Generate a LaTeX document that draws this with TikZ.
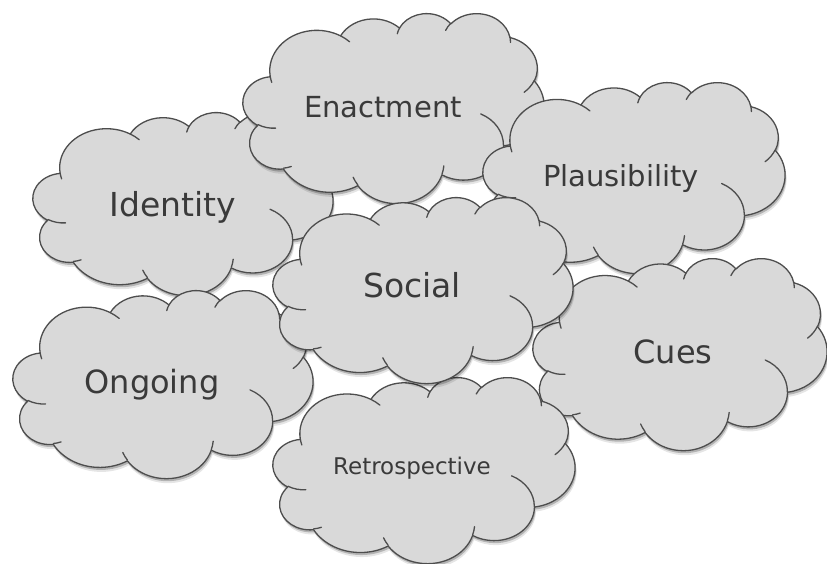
\documentclass[tikz,border=0pt]{standalone}
\usepackage{fontspec}
\setmainfont{DejaVu Sans}
\usepackage{xcolor}
\definecolor{cloudgray}{HTML}{D9D9D9}
\definecolor{cloudedge}{HTML}{4D4D4D}
\definecolor{cloudtext}{HTML}{3A3A3A}

% one elliptic arc of the cloud outline: width, height, rx, ry, start, sweep
% (outline is laid out on a 432 x 432 grid)
\newcommand\cloudarc[6]{%
  arc[x radius={#3/432*#1*1pt}, y radius={#4/432*#2*1pt},
      start angle={-atan2(#3*sin(#5),#4*cos(#5))},
      delta angle={-mod(atan2(#3*sin(#5+#6),#4*cos(#5+#6))-atan2(#3*sin(#5),#4*cos(#5))+720,360)}]}

% left, top, width, height
\newcommand\cloudshape[4]{%
  ({#1+39.00/432*#3},{#2+143.70/432*#4})
  \cloudarc{#3}{#4}{67.53}{91.90}{-190.4875}{123.7805}
  \cloudarc{#3}{#4}{53.33}{72.67}{-144.1024}{89.9452}
  \cloudarc{#3}{#4}{43.65}{59.45}{-145.8079}{99.7230}
  \cloudarc{#3}{#4}{48.57}{65.95}{-130.9861}{117.2417}
  \cloudarc{#3}{#4}{53.33}{72.73}{-78.7089}{109.0269}
  \cloudarc{#3}{#4}{67.75}{92.20}{-46.2673}{130.2690}
  \cloudarc{#3}{#4}{57.85}{78.67}{0.6250}{114.0333}
  \cloudarc{#3}{#4}{67.52}{92.15}{22.4516}{115.1726}
  \cloudarc{#3}{#4}{77.20}{105.43}{66.2426}{75.7110}
  \cloudarc{#3}{#4}{43.60}{59.18}{-274.9421}{146.7356}
  \cloudarc{#3}{#4}{43.45}{59.45}{-246.8285}{152.5189}
  -- cycle}

% the small inner strokes between the puffs
\newcommand\cloudhooks[4]{%
  ({#1+46.93/432*#3},{#2+261.77/432*#4})  \cloudarc{#3}{#4}{43.45}{59.45}{86.7420}{26.4295}
  ({#1+69.28/432*#3},{#2+348.99/432*#4})  \cloudarc{#3}{#4}{43.60}{59.18}{73.6105}{11.4475}
  ({#1+164.78/432*#3},{#2+390.90/432*#4}) \cloudarc{#3}{#4}{67.52}{92.15}{137.6242}{14.0811}
  ({#1+288.27/432*#3},{#2+347.51/432*#4}) \cloudarc{#3}{#4}{67.52}{92.15}{6.4533}{15.9984}
  ({#1+341.29/432*#3},{#2+229.54/432*#4}) \cloudarc{#3}{#4}{57.85}{78.67}{-70.2924}{70.9174}
  ({#1+417.98/432*#3},{#2+153.54/432*#4}) \cloudarc{#3}{#4}{53.33}{72.73}{30.3180}{27.7515}
  ({#1+383.24/432*#3},{#2+54.26/432*#4})  \cloudarc{#3}{#4}{48.57}{65.95}{-13.7443}{14.8589}
  ({#1+290.78/432*#3},{#2+39.52/432*#4})  \cloudarc{#3}{#4}{48.57}{65.95}{-149.1815}{18.1954}
  ({#1+221.41/432*#3},{#2+47.20/432*#4})  \cloudarc{#3}{#4}{43.65}{59.45}{-163.4943}{17.6864}
  ({#1+140.00/432*#3},{#2+51.92/432*#4})  \cloudarc{#3}{#4}{67.53}{91.90}{-66.7070}{12.3194}
  ({#1+41.27/432*#3},{#2+157.89/432*#4})  \cloudarc{#3}{#4}{67.53}{91.90}{157.6544}{11.8582}}

\newcommand\drawcloud[4]{%
  \fill [cloud shadow, opacity=0.10] \cloudshape{#1+1.5}{#2+4.5}{#3}{#4};
  \fill [cloud shadow, opacity=0.22] \cloudshape{#1+1}{#2+2.5}{#3}{#4};
  \filldraw [cloud body] \cloudshape{#1}{#2}{#3}{#4};
  \draw [cloud hooks] \cloudhooks{#1}{#2}{#3}{#4};}

\begin{document}
\begin{tikzpicture}
    [
      x=1pt, y=-1pt,
      cloud shadow/.style = {fill=black},
      cloud body/.style = {fill=cloudgray, draw=cloudedge, line width=1.3pt, line join=round},
      cloud hooks/.style = {draw=cloudedge, line width=1.3pt, line cap=round},
      cloud label/.style = {anchor=base, text=cloudtext, inner sep=0pt}
    ]
    \useasboundingbox (0,0) rectangle (827,564);

    \drawcloud{33}{112}{300}{183}
    \drawcloud{243}{13}{301}{190}
    \drawcloud{483}{82}{302}{191}
    \drawcloud{533}{258}{294}{192}
    \drawcloud{13}{290}{300}{188}
    \drawcloud{273}{377}{302}{186}
    \drawcloud{273}{197}{300}{186}

    \node [cloud label, font=\fontsize{33}{40}\selectfont] (identity) at (173,217) {Identity};
    \node [cloud label, font=\fontsize{29}{35}\selectfont] (enactment) at (383,118) {Enactment};
    \node [cloud label, font=\fontsize{29}{35}\selectfont] (plausibility) at (621,187) {Plausibility};
    \node [cloud label, font=\fontsize{32}{38}\selectfont] (cues) at (673,363) {Cues};
    \node [cloud label, font=\fontsize{32}{38}\selectfont] (ongoing) at (152,393) {Ongoing};
    \node [cloud label, font=\fontsize{23}{28}\selectfont] (retrospective) at (412,474) {Retrospective};
    \node [cloud label, font=\fontsize{33}{40}\selectfont] (social) at (412,297) {Social};
\end{tikzpicture}
\end{document}
